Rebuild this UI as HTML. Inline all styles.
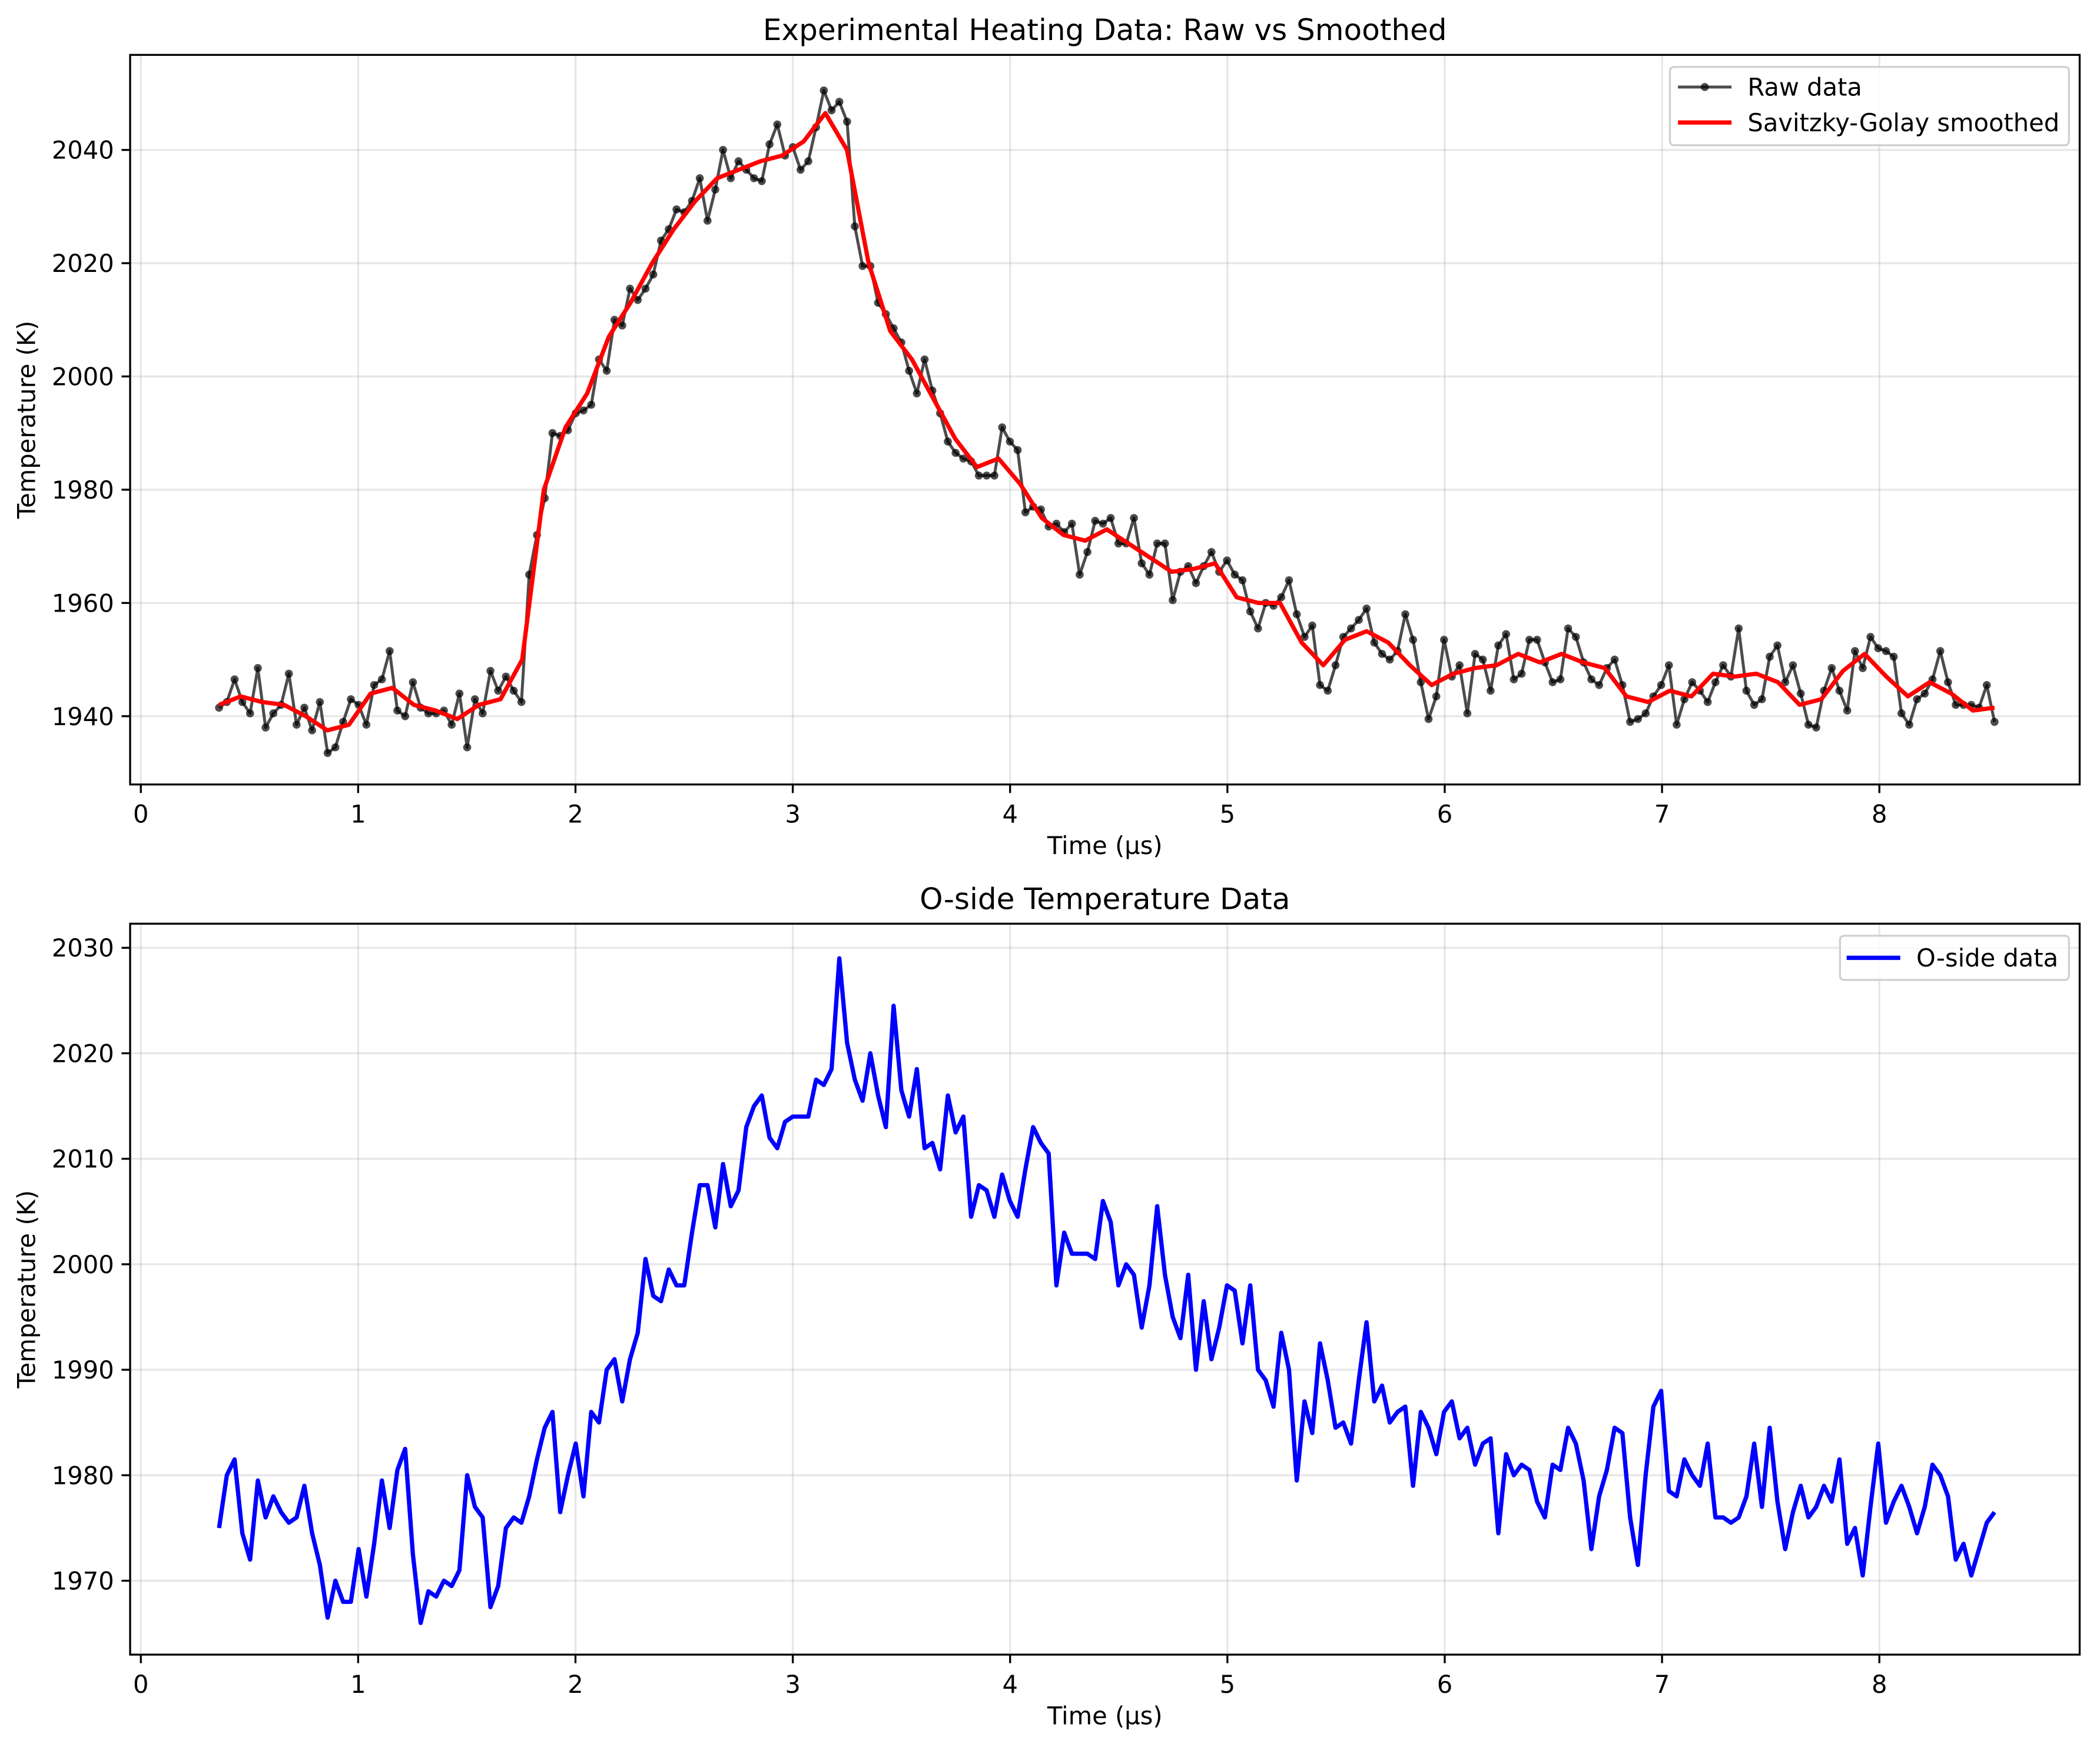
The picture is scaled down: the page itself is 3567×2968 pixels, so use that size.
<!DOCTYPE html>
<html><head><meta charset="utf-8"><style>html,body{margin:0;padding:0;background:#fff}svg{display:block}text{font-family:"DejaVu Sans","Liberation Sans",sans-serif}</style></head>
<body>
<svg id="fig" width="3567" height="2968" viewBox="0 0 1568 1305" xmlns="http://www.w3.org/2000/svg"></svg>
<script>
const rawTemps=[1941.5,1942.5,1946.5,1942.5,1940.5,1948.5,1938,1940.5,1942,1947.5,1938.5,1941.5,1937.5,1942.5,1933.5,1934.5,1939,1943,1942,1938.5,1945.5,1946.5,1951.5,1941,1940,1946,1941.5,1940.5,1940.5,1941,1938.5,1944,1934.5,1943,1940.5,1948,1944.5,1947,1944.5,1942.5,1965,1972,1978.5,1990,1989.5,1990.5,1993.5,1994,1995,2003,2001,2010,2009,2015.5,2013.5,2015.5,2018,2024,2026,2029.5,2029,2031,2035,2027.5,2033,2040,2035,2038,2036.5,2035,2034.5,2041,2044.5,2039,2040.5,2036.5,2038,2044,2050.5,2047,2048.5,2045,2026.5,2019.5,2019.5,2013,2011,2008.5,2006,2001,1997,2003,1997.5,1993.5,1988.5,1986.5,1985.5,1985,1982.5,1982.5,1982.5,1991,1988.5,1987,1976,1977,1976.5,1973.5,1974,1972.5,1974,1965,1969,1974.5,1974,1975,1970.5,1970.5,1975,1967,1965,1970.5,1970.5,1960.5,1965.5,1966.5,1963.5,1966.5,1969,1965.5,1967.5,1965,1964,1958.5,1955.5,1960,1959.5,1961,1964,1958,1954,1956,1945.5,1944.5,1949,1954,1955.5,1957,1959,1953,1951,1950,1951.5,1958,1953.5,1946,1939.5,1943.5,1953.5,1947,1949,1940.5,1951,1950,1944.5,1952.5,1954.5,1946.5,1947.5,1953.5,1953.5,1949.5,1946,1946.5,1955.5,1954,1949.5,1946.5,1945.5,1948.5,1950,1945.5,1939,1939.5,1940.5,1943.5,1945.5,1949,1938.5,1943,1946,1944.5,1942.5,1946,1949,1947,1955.5,1944.5,1942,1943,1950.5,1952.5,1946,1949,1944,1938.5,1938,1944.5,1948.5,1944.5,1941,1951.5,1948.5,1954,1952,1951.5,1950.5,1940.5,1938.5,1943,1944,1946.5,1951.5,1946,1942,1942,1942,1941.5,1945.5,1939];
const smoothTemps=[1942,1943.5,1942.5,1942,1940,1937.5,1938.5,1944,1945,1942,1941,1939.5,1942,1943,1950,1980,1991,1997,2007,2013,2020,2026,2031,2035,2036.5,2038,2039,2041.5,2046.5,2040,2020,2008,2003,1996,1989,1984,1985.5,1981,1975,1972,1971,1973,1970.5,1968,1965.5,1966,1967,1961,1960,1960,1953,1949,1953.5,1955,1953,1949,1945.5,1947.5,1948.5,1949,1951,1949.5,1951,1949.5,1948.5,1943.5,1942.5,1944.5,1943.5,1947.5,1947,1947.5,1946,1942,1943,1948,1951,1947,1943.5,1946,1944,1941,1941.5];
const oTemps=[1975,1980,1981.5,1974.5,1972,1979.5,1976,1978,1976.5,1975.5,1976,1979,1974.5,1971.5,1966.5,1970,1968,1968,1973,1968.5,1973.5,1979.5,1975,1980.5,1982.5,1972.5,1966,1969,1968.5,1970,1969.5,1971,1980,1977,1976,1967.5,1969.5,1975,1976,1975.5,1978,1981.5,1984.5,1986,1976.5,1980,1983,1978,1986,1985,1990,1991,1987,1991,1993.5,2000.5,1997,1996.5,1999.5,1998,1998,2003,2007.5,2007.5,2003.5,2009.5,2005.5,2007,2013,2015,2016,2012,2011,2013.5,2014,2014,2014,2017.5,2017,2018.5,2029,2021,2017.5,2015.5,2020,2016,2013,2024.5,2016.5,2014,2018.5,2011,2011.5,2009,2016,2012.5,2014,2004.5,2007.5,2007,2004.5,2008.5,2006,2004.5,2009,2013,2011.5,2010.5,1998,2003,2001,2001,2001,2000.5,2006,2004,1998,2000,1999,1994,1998,2005.5,1999,1995,1993,1999,1990,1996.5,1991,1994,1998,1997.5,1992.5,1998,1990,1989,1986.5,1993.5,1990,1979.5,1987,1984,1992.5,1989,1984.5,1985,1983,1989,1994.5,1987,1988.5,1985,1986,1986.5,1979,1986,1984.5,1982,1986,1987,1983.5,1984.5,1981,1983,1983.5,1974.5,1982,1980,1981,1980.5,1977.5,1976,1981,1980.5,1984.5,1983,1979.5,1973,1978,1980.5,1984.5,1984,1976,1971.5,1980,1986.5,1988,1978.5,1978,1981.5,1980,1979,1983,1976,1976,1975.5,1976,1978,1983,1977,1984.5,1977.5,1973,1976.5,1979,1976,1977,1979,1977.5,1981.5,1973.5,1975,1970.5,1977,1983,1975.5,1977.5,1979,1977,1974.5,1977,1981,1980,1978,1972,1973.5,1970.5,1973,1975.5,1976.5];
const tStart=0.36, tEnd=8.53;
const xTicks=[0,1,2,3,4,5,6,7,8];
const yTicksTop=[1940,1960,1980,2000,2020,2040];
const yTicksBot=[1970,1980,1990,2000,2010,2020,2030];

const NS="http://www.w3.org/2000/svg";
const svg=document.getElementById('fig');
const FS=18.3, TS=22, LW=1.46;
function mk(tag,attrs,parent){const e=document.createElementNS(NS,tag);for(const k in attrs)e.setAttribute(k,attrs[k]);(parent||svg).appendChild(e);return e;}
function times(n){const a=[];for(let i=0;i<n;i++)a.push(tStart+(tEnd-tStart)*i/(n-1));return a;}
const X=t=>105+t*162.3;

function axes(name,top,bot,yS,yTicks,title){
  const g=mk('g',{});
  
  
  xTicks.forEach(t=>{const l=mk('line',{x1:X(t),x2:X(t),y1:top,y2:bot,stroke:'#b0b0b0','stroke-opacity':0.3,'stroke-width':LW},g);});
  yTicks.forEach(v=>{const l=mk('line',{x1:97,x2:1553,y1:yS(v),y2:yS(v),stroke:'#b0b0b0','stroke-opacity':0.3,'stroke-width':LW},g);});
  xTicks.forEach(t=>{mk('line',{x1:X(t),x2:X(t),y1:bot,y2:bot+6.4,stroke:'#000','stroke-width':LW},g);
    const tx=mk('text',{x:X(t),y:bot+28.5,'font-size':FS,'text-anchor':'middle'},g);tx.textContent=t;});
  yTicks.forEach(v=>{mk('line',{x1:97,x2:90.6,y1:yS(v),y2:yS(v),stroke:'#000','stroke-width':LW},g);
    const tx=mk('text',{x:85,y:yS(v)+6.6,'font-size':FS,'text-anchor':'end'},g);tx.textContent=v;});
  const tt=mk('text',{x:825,y:top-11,'font-size':TS,'text-anchor':'middle'},g);tt.textContent=title;
  
  const xl=mk('text',{x:825,y:bot+52,'font-size':FS,'text-anchor':'middle'},g);xl.textContent='Time (µs)';
  
  const ym=(top+bot)/2;
  const yl=mk('text',{x:26,y:ym,'font-size':FS,'text-anchor':'middle',transform:`rotate(-90 26 ${ym})`},g);yl.textContent='Temperature (K)';
  
  return g;
}
function frame(top,bot){const r=mk('rect',{x:97,y:top,width:1456,height:bot-top,fill:'none',stroke:'#000','stroke-width':LW});}
function pathD(ts,vs,yS){return vs.map((v,i)=>(i?'L':'M')+X(ts[i]).toFixed(2)+','+yS(v).toFixed(2)).join('');}

// top
const yT=v=>535-(v-1940)*84.6/20;
axes('top-axes',41,586,yT,yTicksTop,'Experimental Heating Data: Raw vs Smoothed');
const rt=times(rawTemps.length);
const rawLine=mk('path',{d:pathD(rt,rawTemps,yT),fill:'none',stroke:'#000','stroke-opacity':0.7,'stroke-width':2.2,'stroke-linejoin':'round'});

rawTemps.forEach((v,i)=>{const c=mk('circle',{cx:X(rt[i]),cy:yT(v),r:3,fill:'#000','fill-opacity':0.7});});
const st=times(smoothTemps.length);
const sl=mk('path',{d:pathD(st,smoothTemps,yT),fill:'none',stroke:'#ff0000','stroke-width':3.2,'stroke-linejoin':'round'});

frame(41,586);
// top legend
const lg=mk('g',{});
mk('rect',{x:1247,y:50,width:298,height:58.5,rx:3,fill:'#fff','fill-opacity':0.8,stroke:'#d0d0d0','stroke-width':LW},lg);
mk('line',{x1:1253,x2:1293,y1:65,y2:65,stroke:'#000','stroke-opacity':0.7,'stroke-width':2.2},lg);
mk('circle',{cx:1273,cy:65,r:3,fill:'#000','fill-opacity':0.7},lg);
let t1=mk('text',{x:1305,y:71.5,'font-size':FS},lg);t1.textContent='Raw data';
mk('line',{x1:1253,x2:1293,y1:91.5,y2:91.5,stroke:'#ff0000','stroke-width':3.2},lg);
let t2=mk('text',{x:1305,y:98,'font-size':FS},lg);t2.textContent='Savitzky-Golay smoothed';

// bottom
const yB=v=>1102-(v-1980)*78.8/10;
axes('bottom-axes',690,1236,yB,yTicksBot,'O-side Temperature Data');
const ot=times(oTemps.length);
const ol=mk('path',{d:pathD(ot,oTemps,yB),fill:'none',stroke:'#0000ff','stroke-width':3.2,'stroke-linejoin':'round'});

frame(690,1236);
const lg2=mk('g',{});
mk('rect',{x:1374,y:699,width:171,height:33,rx:3,fill:'#fff','fill-opacity':0.8,stroke:'#d0d0d0','stroke-width':LW},lg2);
mk('line',{x1:1379,x2:1419,y1:715.5,y2:715.5,stroke:'#0000ff','stroke-width':3.2},lg2);
let t3=mk('text',{x:1431,y:722,'font-size':FS},lg2);t3.textContent='O-side data';
</script>
</body></html>
